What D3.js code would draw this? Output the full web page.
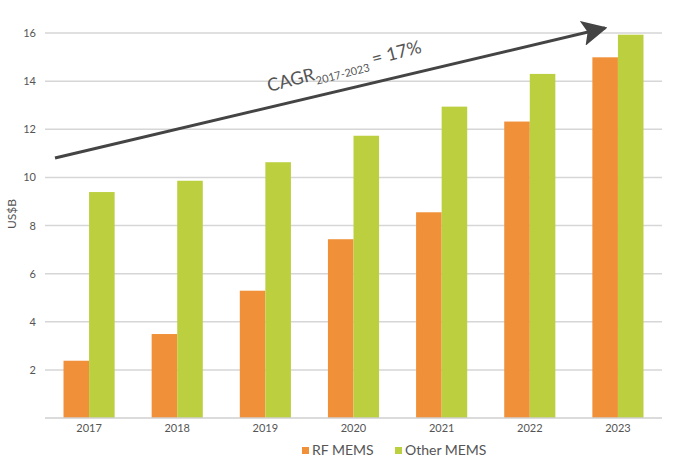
<!DOCTYPE html>
<html><head><meta charset="utf-8">
<script src="https://cdn.jsdelivr.net/npm/d3@7"></script>
<style>
html,body{margin:0;padding:0;background:#fff;}
svg{display:block;font-family:Lato,"Open Sans",sans-serif;}
</style></head>
<body>
<svg id="chart" width="673" height="461"></svg>
<script>
const years = ["2017","2018","2019","2020","2021","2022","2023"];
const rfMems = [2.38, 3.49, 5.29, 7.43, 8.55, 12.32, 14.99];
const otherMems = [9.39, 9.86, 10.63, 11.73, 12.94, 14.30, 15.93];
const seriesNames = ["RF MEMS", "Other MEMS"];
const seriesColors = ["#F0913A", "#BCCF3F"];
const yTicks = [2, 4, 6, 8, 10, 12, 14, 16];

const svg = d3.select("#chart");
const x = d3.scaleBand().domain(years).range([45, 662]).paddingInner(0.42).paddingOuter(0.21);
const xs = d3.scaleBand().domain(seriesNames).range([0, x.bandwidth()]);
const y = d3.scaleLinear().domain([0, 16]).range([418, 33]);

// grid
svg.append("g").selectAll("line").data(yTicks).join("line")
  .attr("x1", 45).attr("x2", 662)
  .attr("y1", d => y(d)).attr("y2", d => y(d))
  .attr("stroke", "#d6d6d6").attr("stroke-width", 1.5);

// y axis labels
const yAxis = d3.axisLeft(y).tickValues(yTicks).tickSize(0).tickPadding(0);
const gy = svg.append("g").attr("transform", "translate(36,0)").call(yAxis);
gy.select(".domain").remove();
gy.selectAll("text").attr("fill", "#555").style("font-size", "11px").style("font-family", "Lato, sans-serif");

// bars
const series = [rfMems, otherMems];
series.forEach((vals, si) => {
  svg.append("g").selectAll("rect").data(vals).join("rect")
    .attr("x", (d, i) => x(years[i]) + xs(seriesNames[si]))
    .attr("width", xs.bandwidth())
    .attr("y", d => y(d))
    .attr("height", d => y(0) - y(d))
    .attr("fill", seriesColors[si]);
});

// baseline
svg.append("line").attr("x1", 45).attr("x2", 662).attr("y1", y(0)).attr("y2", y(0))
  .attr("stroke", "#cfcfcf").attr("stroke-width", 1.5);

// x axis
const xAxis = d3.axisBottom(x).tickSize(0).tickPadding(6);
const gx = svg.append("g").attr("transform", `translate(0,${y(0)})`).call(xAxis);
gx.select(".domain").remove();
gx.selectAll("text").attr("fill", "#555").style("font-size", "11px").style("font-family", "Lato, sans-serif");

// y axis title
svg.append("text").attr("transform", "translate(16,214) rotate(-90)")
  .attr("text-anchor", "middle").attr("fill", "#555").style("font-size", "12px").text("US$B");

// legend
const legend = svg.append("g").attr("transform", "translate(302,443)");
const legX = [0, 93];
seriesNames.forEach((n, i) => {
  legend.append("rect").attr("x", legX[i]).attr("y", 4).attr("width", 7).attr("height", 7).attr("fill", seriesColors[i]);
  legend.append("text").attr("x", legX[i] + 10).attr("y", 12).attr("fill", "#555")
    .style("font-size", "14px").text(n);
});

// arrow
const defs = svg.append("defs");
defs.append("marker").attr("id", "ah").attr("viewBox", "0 0 10 10")
  .attr("refX", 9).attr("refY", 5).attr("markerWidth", 8.5).attr("markerHeight", 8.5)
  .attr("markerUnits", "strokeWidth").attr("orient", "auto")
  .append("path").attr("d", "M0,0 L10,5 L0,10 L2,5 Z").attr("fill", "#444");
svg.append("line").attr("x1", 55).attr("y1", 158).attr("x2", 605).attr("y2", 28)
  .attr("stroke", "#444").attr("stroke-width", 3).attr("marker-end", "url(#ah)");

// CAGR label
const t = svg.append("text").attr("transform", "translate(269,92) rotate(-14.5)")
  .attr("fill", "#555").style("font-size", "18px");
t.append("tspan").text("CAGR");
t.append("tspan").attr("dy", 5).style("font-size", "11px").text("2017-2023");
t.append("tspan").attr("dy", -5).text(" = 17%");
</script>
</body></html>
